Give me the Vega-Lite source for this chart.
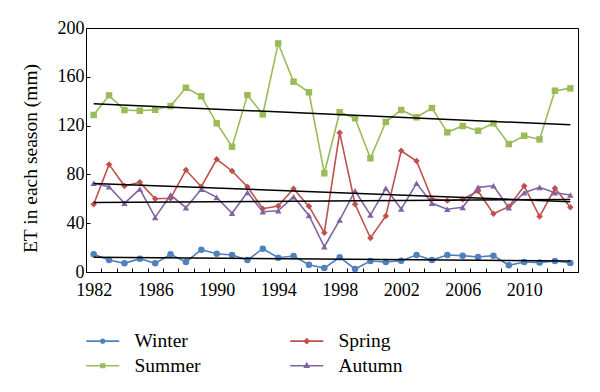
{
  "$schema": "https://vega.github.io/schema/vega-lite/v6.json",
  "width": 492,
  "height": 244,
  "autosize": "none",
  "padding": {"left": 86, "top": 28, "right": 22, "bottom": 120},
  "config": {
    "view": {"stroke": "#000", "strokeWidth": 1},
    "font": "Liberation Serif",
    "axis": {"grid": false, "domainColor": "#000", "tickColor": "#000", "labelColor": "#000", "labelFont": "Liberation Serif", "labelFontSize": 18, "titleFont": "Liberation Serif", "titleColor": "#000"}
  },
  "data": {
    "values": [
      {"year": 1982, "season": "Winter", "ET": 14.5}, {"year": 1983, "season": "Winter", "ET": 9.8}, {"year": 1984, "season": "Winter", "ET": 7.1}, {"year": 1985, "season": "Winter", "ET": 10.9},
      {"year": 1986, "season": "Winter", "ET": 7.1}, {"year": 1987, "season": "Winter", "ET": 14.5}, {"year": 1988, "season": "Winter", "ET": 8.2}, {"year": 1989, "season": "Winter", "ET": 18.3},
      {"year": 1990, "season": "Winter", "ET": 15.0}, {"year": 1991, "season": "Winter", "ET": 13.9}, {"year": 1992, "season": "Winter", "ET": 9.8}, {"year": 1993, "season": "Winter", "ET": 19.1},
      {"year": 1994, "season": "Winter", "ET": 11.7}, {"year": 1995, "season": "Winter", "ET": 13.1}, {"year": 1996, "season": "Winter", "ET": 6.0}, {"year": 1997, "season": "Winter", "ET": 3.2},
      {"year": 1998, "season": "Winter", "ET": 12.0}, {"year": 1999, "season": "Winter", "ET": 2.5}, {"year": 2000, "season": "Winter", "ET": 9.0}, {"year": 2001, "season": "Winter", "ET": 8.2},
      {"year": 2002, "season": "Winter", "ET": 9.3}, {"year": 2003, "season": "Winter", "ET": 13.9}, {"year": 2004, "season": "Winter", "ET": 9.8}, {"year": 2005, "season": "Winter", "ET": 13.9},
      {"year": 2006, "season": "Winter", "ET": 13.4}, {"year": 2007, "season": "Winter", "ET": 12.3}, {"year": 2008, "season": "Winter", "ET": 13.4}, {"year": 2009, "season": "Winter", "ET": 5.5},
      {"year": 2010, "season": "Winter", "ET": 8.2}, {"year": 2011, "season": "Winter", "ET": 7.7}, {"year": 2012, "season": "Winter", "ET": 9.0}, {"year": 2013, "season": "Winter", "ET": 7.4},

      {"year": 1982, "season": "Summer", "ET": 128.7}, {"year": 1983, "season": "Summer", "ET": 144.8}, {"year": 1984, "season": "Summer", "ET": 132.8}, {"year": 1985, "season": "Summer", "ET": 132.2},
      {"year": 1986, "season": "Summer", "ET": 133.0}, {"year": 1987, "season": "Summer", "ET": 136.0}, {"year": 1988, "season": "Summer", "ET": 151.0}, {"year": 1989, "season": "Summer", "ET": 144.0},
      {"year": 1990, "season": "Summer", "ET": 121.9}, {"year": 1991, "season": "Summer", "ET": 102.7}, {"year": 1992, "season": "Summer", "ET": 145.0}, {"year": 1993, "season": "Summer", "ET": 129.2},
      {"year": 1994, "season": "Summer", "ET": 187.4}, {"year": 1995, "season": "Summer", "ET": 156.0}, {"year": 1996, "season": "Summer", "ET": 147.3}, {"year": 1997, "season": "Summer", "ET": 80.9},
      {"year": 1998, "season": "Summer", "ET": 131.0}, {"year": 1999, "season": "Summer", "ET": 126.0}, {"year": 2000, "season": "Summer", "ET": 93.2}, {"year": 2001, "season": "Summer", "ET": 123.0},
      {"year": 2002, "season": "Summer", "ET": 132.8}, {"year": 2003, "season": "Summer", "ET": 126.8}, {"year": 2004, "season": "Summer", "ET": 134.4}, {"year": 2005, "season": "Summer", "ET": 114.5},
      {"year": 2006, "season": "Summer", "ET": 119.7}, {"year": 2007, "season": "Summer", "ET": 115.8}, {"year": 2008, "season": "Summer", "ET": 121.9}, {"year": 2009, "season": "Summer", "ET": 104.9},
      {"year": 2010, "season": "Summer", "ET": 111.7}, {"year": 2011, "season": "Summer", "ET": 108.7}, {"year": 2012, "season": "Summer", "ET": 148.6}, {"year": 2013, "season": "Summer", "ET": 150.5},

      {"year": 1982, "season": "Spring", "ET": 55.5}, {"year": 1983, "season": "Spring", "ET": 88.2}, {"year": 1984, "season": "Spring", "ET": 70.5}, {"year": 1985, "season": "Spring", "ET": 73.5},
      {"year": 1986, "season": "Spring", "ET": 60.1}, {"year": 1987, "season": "Spring", "ET": 60.4}, {"year": 1988, "season": "Spring", "ET": 83.6}, {"year": 1989, "season": "Spring", "ET": 69.9},
      {"year": 1990, "season": "Spring", "ET": 92.4}, {"year": 1991, "season": "Spring", "ET": 82.8}, {"year": 1992, "season": "Spring", "ET": 69.9}, {"year": 1993, "season": "Spring", "ET": 51.9},
      {"year": 1994, "season": "Spring", "ET": 54.1}, {"year": 1995, "season": "Spring", "ET": 68.3}, {"year": 1996, "season": "Spring", "ET": 53.8}, {"year": 1997, "season": "Spring", "ET": 32.2},
      {"year": 1998, "season": "Spring", "ET": 114.2}, {"year": 1999, "season": "Spring", "ET": 55.5}, {"year": 2000, "season": "Spring", "ET": 27.9}, {"year": 2001, "season": "Spring", "ET": 45.9},
      {"year": 2002, "season": "Spring", "ET": 99.4}, {"year": 2003, "season": "Spring", "ET": 91.0}, {"year": 2004, "season": "Spring", "ET": 60.1}, {"year": 2005, "season": "Spring", "ET": 58.5},
      {"year": 2006, "season": "Spring", "ET": 59.6}, {"year": 2007, "season": "Spring", "ET": 66.4}, {"year": 2008, "season": "Spring", "ET": 47.8}, {"year": 2009, "season": "Spring", "ET": 53.6},
      {"year": 2010, "season": "Spring", "ET": 70.5}, {"year": 2011, "season": "Spring", "ET": 45.4}, {"year": 2012, "season": "Spring", "ET": 68.6}, {"year": 2013, "season": "Spring", "ET": 53.0},

      {"year": 1982, "season": "Autumn", "ET": 72.7}, {"year": 1983, "season": "Autumn", "ET": 69.9}, {"year": 1984, "season": "Autumn", "ET": 56.3}, {"year": 1985, "season": "Autumn", "ET": 68.0},
      {"year": 1986, "season": "Autumn", "ET": 44.8}, {"year": 1987, "season": "Autumn", "ET": 63.1}, {"year": 1988, "season": "Autumn", "ET": 52.7}, {"year": 1989, "season": "Autumn", "ET": 67.8},
      {"year": 1990, "season": "Autumn", "ET": 61.2}, {"year": 1991, "season": "Autumn", "ET": 48.1}, {"year": 1992, "season": "Autumn", "ET": 65.3}, {"year": 1993, "season": "Autumn", "ET": 49.4},
      {"year": 1994, "season": "Autumn", "ET": 50.2}, {"year": 1995, "season": "Autumn", "ET": 61.7}, {"year": 1996, "season": "Autumn", "ET": 46.4}, {"year": 1997, "season": "Autumn", "ET": 20.7},
      {"year": 1998, "season": "Autumn", "ET": 42.6}, {"year": 1999, "season": "Autumn", "ET": 66.6}, {"year": 2000, "season": "Autumn", "ET": 46.7}, {"year": 2001, "season": "Autumn", "ET": 68.6},
      {"year": 2002, "season": "Autumn", "ET": 51.6}, {"year": 2003, "season": "Autumn", "ET": 72.7}, {"year": 2004, "season": "Autumn", "ET": 56.3}, {"year": 2005, "season": "Autumn", "ET": 51.4},
      {"year": 2006, "season": "Autumn", "ET": 53.0}, {"year": 2007, "season": "Autumn", "ET": 69.4}, {"year": 2008, "season": "Autumn", "ET": 70.7}, {"year": 2009, "season": "Autumn", "ET": 52.7},
      {"year": 2010, "season": "Autumn", "ET": 65.0}, {"year": 2011, "season": "Autumn", "ET": 69.4}, {"year": 2012, "season": "Autumn", "ET": 65.0}, {"year": 2013, "season": "Autumn", "ET": 63.1}
    ]
  },
  "encoding": {
    "x": {
      "field": "year", "type": "quantitative",
      "scale": {"domain": [1981.5, 2013.5], "nice": false, "zero": false},
      "axis": {
        "title": null,
        "values": [1981.5, 1982.5, 1983.5, 1984.5, 1985.5, 1986.5, 1987.5, 1988.5, 1989.5, 1990.5, 1991.5, 1992.5, 1993.5, 1994.5, 1995.5, 1996.5, 1997.5, 1998.5, 1999.5, 2000.5, 2001.5, 2002.5, 2003.5, 2004.5, 2005.5, 2006.5, 2007.5, 2008.5, 2009.5, 2010.5, 2011.5, 2012.5, 2013.5],
        "labelExpr": "(datum.value - 1981.5) % 4 == 0 && datum.value < 2012 ? '' + (datum.value + 0.5) : ''",
        "labelOffset": 7.7,
        "labelOverlap": false,
        "labelFlush": false,
        "labelPadding": 13,
        "tickSize": -4
      }
    },
    "y": {
      "field": "ET", "type": "quantitative",
      "scale": {"domain": [0, 200], "nice": false},
      "axis": {
        "title": "ET in each season (mm)",
        "values": [0, 40, 80, 120, 160, 200],
        "tickSize": -4,
        "labelPadding": 6,
        "titleFontSize": 19.5,
        "titleFontWeight": "normal",
        "titleX": -56,
        "titleY": 130,
        "titleAngle": -90,
        "titleBaseline": "middle"
      }
    }
  },
  "layer": [
    {
      "mark": {"type": "line", "strokeWidth": 1.6},
      "encoding": {
        "color": {
          "field": "season", "type": "nominal",
          "scale": {"domain": ["Winter", "Spring", "Summer", "Autumn"], "range": ["#4F81BD", "#C0504D", "#9BBB59", "#8064A2"]},
          "legend": null
        }
      }
    },
    {
      "mark": {"type": "point", "filled": true, "opacity": 1, "size": 42},
      "encoding": {
        "color": {
          "field": "season", "type": "nominal",
          "scale": {"domain": ["Winter", "Spring", "Summer", "Autumn"], "range": ["#4F81BD", "#C0504D", "#9BBB59", "#8064A2"]},
          "legend": null
        },
        "shape": {
          "field": "season", "type": "nominal",
          "scale": {"domain": ["Winter", "Spring", "Summer", "Autumn"], "range": ["circle", "diamond", "square", "triangle-up"]},
          "legend": null
        }
      }
    },
    {
      "transform": [{"regression": "ET", "on": "year", "groupby": ["season"]}],
      "mark": {"type": "line", "color": "#000", "strokeWidth": 1.5},
      "encoding": {
        "detail": {"field": "season", "type": "nominal"}
      }
    },
    {
      "mark": {"type": "point", "filled": false, "opacity": 0, "strokeWidth": 1.6},
      "encoding": {
        "color": {
          "field": "season", "type": "nominal",
          "scale": {"domain": ["Winter", "Summer", "Spring", "Autumn"], "range": ["#4F81BD", "#9BBB59", "#C0504D", "#8064A2"]},
          "legend": {
            "title": null,
            "orient": "none",
            "legendX": 7,
            "legendY": 303,
            "columns": 2,
            "symbolSize": 100,
            "symbolOpacity": 1,
            "symbolStrokeWidth": 1.6,
            "labelFont": "Liberation Serif",
            "labelFontSize": 19.5,
            "labelColor": "#000",
            "labelOffset": 22,
            "columnPadding": 86,
            "rowPadding": 4
          }
        },
        "shape": {
          "field": "season", "type": "nominal",
          "scale": {
            "domain": ["Winter", "Summer", "Spring", "Autumn"],
            "range": [
              "M-3.3,0H3.3M0.35,0A0.35,0.35,0,1,1,-0.35,0A0.35,0.35,0,1,1,0.35,0ZM0.1,0A0.1,0.1,0,1,1,-0.1,0A0.1,0.1,0,1,1,0.1,0Z",
              "M-3.3,0H3.3M-0.35,-0.35H0.35V0.35H-0.35ZM-0.1,-0.1H0.1V0.1H-0.1Z",
              "M-3.3,0H3.3M0,-0.45L0.45,0L0,0.45L-0.45,0ZM0,-0.15L0.15,0L0,0.15L-0.15,0Z",
              "M-3.3,0H3.3M0,-0.45L0.42,0.3H-0.42ZM0,-0.12L0.12,0.08H-0.12Z"
            ]
          },
          "legend": {
            "title": null,
            "orient": "none",
            "legendX": 7,
            "legendY": 303,
            "columns": 2,
            "symbolSize": 100,
            "symbolOpacity": 1,
            "symbolStrokeWidth": 1.6,
            "labelFont": "Liberation Serif",
            "labelFontSize": 19.5,
            "labelColor": "#000",
            "labelOffset": 22,
            "columnPadding": 86,
            "rowPadding": 4
          }
        }
      }
    }
  ],
  "resolve": {"scale": {"shape": "independent", "color": "independent"}}
}
